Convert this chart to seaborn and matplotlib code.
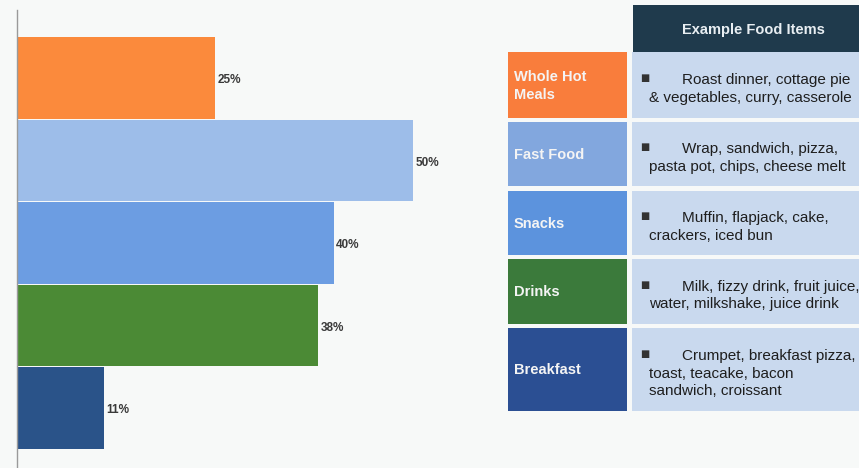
import matplotlib
matplotlib.use("Agg")
import matplotlib.pyplot as plt
from matplotlib.patches import Rectangle
import seaborn as sns
import pandas as pd

# Share of pupils choosing each food category
categories = ["Whole Hot Meals", "Fast Food", "Snacks", "Drinks", "Breakfast"]
shares = [25, 50, 40, 38, 11]
bar_colors = ["#fb8a3c", "#9dbde9", "#6c9de2", "#4b8a35", "#2a5389"]
cell_colors = ["#f97d3c", "#82a7de", "#5c93dd", "#3b7a3b", "#2b4f93"]
row_labels = ["Whole Hot\nMeals", "Fast Food", "Snacks", "Drinks", "Breakfast"]
header = "Example Food Items"
examples = [
    ["Roast dinner, cottage pie", "& vegetables, curry, casserole"],
    ["Wrap, sandwich, pizza,", "pasta pot, chips, cheese melt"],
    ["Muffin, flapjack, cake,", "crackers, iced bun"],
    ["Milk, fizzy drink, fruit juice,", "water, milkshake, juice drink"],
    ["Crumpet, breakfast pizza,", "toast, teacake, bacon", "sandwich, croissant"],
]

sns.set_theme(style="white")
plt.rcParams["font.family"] = ["Liberation Sans", "DejaVu Sans"]

W, H = 859, 468
bg = "#f7f9f8"
fig = plt.figure(figsize=(W / 100, H / 100), dpi=100, facecolor=bg)

def fx(px):
    return px / W

def fy(py):
    return 1 - py / H

# Horizontal bar chart on the left
ax = fig.add_axes([fx(17), 0, fx(470 - 17), (H - 10) / H])
ax.set_facecolor(bg)
df = pd.DataFrame({"category": categories, "share": shares})
sns.barplot(data=df, x="share", y="category", hue="category", palette=bar_colors,
            orient="h", width=0.985, legend=False, ax=ax, saturation=1,
            linewidth=0)
ax.set_xlim(0, 57.2)
ax.set_ylim(4.727, -0.824)
for i, v in enumerate(shares):
    ax.text(v + 0.3, i + 0.03, f"{v}%", va="center", ha="left", fontsize=8.5,
            fontweight="bold", color="#3a3a3a")
ax.set_xlabel("")
ax.set_ylabel("")
ax.set_xticks([])
ax.set_yticks([])
for s in ["top", "right", "bottom"]:
    ax.spines[s].set_visible(False)
ax.spines["left"].set_color("#9a9a9a")
ax.spines["left"].set_linewidth(1.0)

# Table of example food items on the right
def cell(x0, y0, x1, y1, color):
    fig.patches.append(Rectangle((fx(x0), fy(y1)), fx(x1 - x0), (y1 - y0) / H,
                                 transform=fig.transFigure, facecolor=color,
                                 edgecolor="none", zorder=1))

cell(633, 5, 859, 52, "#1f3a4c")
fig.text(fx(753), fy(30), header, ha="center", va="center", color="#e8eef2",
         fontsize=10.5, fontweight="bold")

rows_y = [(52, 118), (122, 186), (191, 255), (259, 324), (328, 411)]
line_step = 17.5
for (y0, y1), col, lab, lines in zip(rows_y, cell_colors, row_labels, examples):
    cell(508, y0, 627, y1, col)
    cell(632, y0, 859, y1, "#c9d9ee")
    fig.text(fx(514), fy((y0 + y1) / 2 + 1), lab, ha="left", va="center",
             color="#f4f4f4", fontsize=10.5, fontweight="bold", linespacing=1.3)
    n = len(lines)
    top = (y0 + y1) / 2 + 4 - (n - 1) * line_step / 2
    fig.text(fx(640), fy(top - 2), "\u25a0", ha="left", va="center",
             color="#333333", fontsize=7, family="DejaVu Sans")
    for k, line in enumerate(lines):
        x = 682 if k == 0 else 649
        fig.text(fx(x), fy(top + k * line_step), line, ha="left", va="center",
                 color="#1e1e1e", fontsize=11)

fig.savefig("out.png", dpi=100, facecolor=bg)
